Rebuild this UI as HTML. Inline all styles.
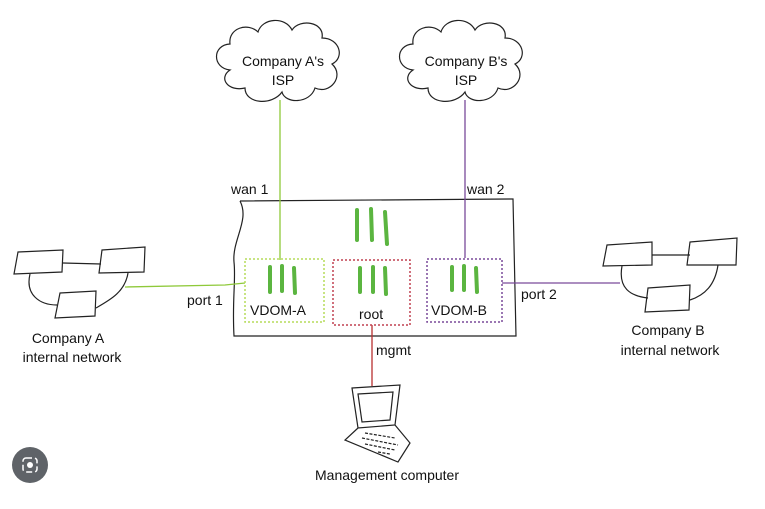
<!DOCTYPE html>
<html><head><style>body{margin:0;background:#fff}svg{display:block}text{font-family:"Liberation Sans",sans-serif;font-size:14px;fill:#111}</style></head><body>
<svg width="765" height="509" viewBox="0 0 765 509">
<g fill="none" stroke="#222" stroke-width="1.2">
<!-- clouds -->
<path d="M230,70 C212,68 212,45 230,44 C228,28 248,22 258,32 C262,18 285,16 292,30 C300,18 325,22 322,38 C340,38 345,58 332,64 C345,76 330,95 315,88 C310,104 285,104 282,92 C272,106 245,104 245,88 C228,92 218,78 230,70 Z"/>
<path d="M413,70 C395,68 395,45 413,44 C411,28 431,22 441,32 C445,18 468,16 475,30 C483,18 508,22 505,38 C523,38 528,58 515,64 C528,76 513,95 498,88 C493,104 468,104 465,92 C455,106 428,104 428,88 C411,92 401,78 413,70 Z"/>
<!-- big box -->
<path d="M240,201 L513,199 L516,336 L234,336 C232,300 236,280 234,262 C232,240 250,220 240,201"/>
<!-- left network -->
<path d="M18,252 L63,250 L62,272 L14,274 Z M102,250 L145,247 L144,272 L99,273 Z M60,293 L96,291 L95,316 L55,318 Z"/>
<path d="M63,263 L101,264 M30,274 C25,295 40,305 57,305 M128,273 C125,292 110,300 96,308"/>
<path d="M607,245 L652,242 L652,265 L603,266 Z M690,242 L737,238 L736,265 L687,265 Z M648,288 L690,285 L689,310 L645,312 Z"/>
<path d="M652,255 L690,255 M622,266 C618,288 630,296 648,298 M718,265 C715,285 705,295 690,300"/>
<!-- laptop -->
<path d="M352,388 L400,385 L395,425 L358,428 Z M358,394 L393,392 L390,420 L362,422 Z M358,428 L345,440 L398,462 L410,443 L395,425"/>
<path d="M365,433 L395,438 M362,438 L398,445 M365,444 L395,450 M378,452 L390,454" stroke-dasharray="3 1.5"/>
</g>
<!-- connectors -->
<path d="M280,100 L280,260" stroke="#8fc93a" stroke-width="1.3"/>
<path d="M125,287 L225,285 L245,283" stroke="#8fc93a" stroke-width="1.3" fill="none"/>
<path d="M465,100 L465,258" stroke="#7a4a9a" stroke-width="1.3"/>
<path d="M502,283 L620,283" stroke="#7a4a9a" stroke-width="1.3"/>
<path d="M372,325 L372,386" stroke="#b83030" stroke-width="1.3"/>
<!-- vdom boxes -->
<rect x="245" y="259" width="79" height="63" fill="none" stroke="#b5dc5a" stroke-width="1.5" stroke-dasharray="2 2"/>
<rect x="333" y="260" width="77" height="65" fill="none" stroke="#c04050" stroke-width="1.5" stroke-dasharray="2 2"/>
<rect x="427" y="259" width="75" height="63" fill="none" stroke="#7a4a9a" stroke-width="1.5" stroke-dasharray="2 2"/>
<g stroke="#5bb540" stroke-width="4" stroke-linecap="round">
<path d="M357,210 L357,240 M371,209 L372,240 M385,212 L387,244"/>
<path d="M270,267 L270,292 M282,266 L282,291 M294,268 L295,293"/>
<path d="M360,268 L360,292 M373,267 L373,292 M385,268 L386,294"/>
<path d="M452,267 L452,290 M464,266 L464,290 M476,268 L477,292"/>
</g>
<text x="283" y="66" text-anchor="middle">Company A's</text>
<text x="283" y="85" text-anchor="middle">ISP</text>
<text x="466" y="66" text-anchor="middle">Company B's</text>
<text x="466" y="85" text-anchor="middle">ISP</text>
<text x="231" y="194">wan 1</text>
<text x="467" y="194">wan 2</text>
<text x="187" y="305">port 1</text>
<text x="521" y="299">port 2</text>
<text x="250" y="315" font-size="15">VDOM-A</text>
<text x="359" y="319">root</text>
<text x="431" y="315" font-size="15">VDOM-B</text>
<text x="376" y="355">mgmt</text>
<text x="68" y="343" text-anchor="middle">Company A</text>
<text x="72" y="362" text-anchor="middle">internal network</text>
<text x="668" y="335" text-anchor="middle">Company B</text>
<text x="670" y="355" text-anchor="middle">internal network</text>
<text x="387" y="480" text-anchor="middle">Management computer</text>
<circle cx="30" cy="465" r="18" fill="#5f6368"/>
<rect x="23" y="458" width="14" height="14" rx="3" fill="none" stroke="#fff" stroke-width="1.5" stroke-dasharray="6 3"/>
<circle cx="30" cy="465" r="3" fill="#fff"/>
</svg>
</body></html>
